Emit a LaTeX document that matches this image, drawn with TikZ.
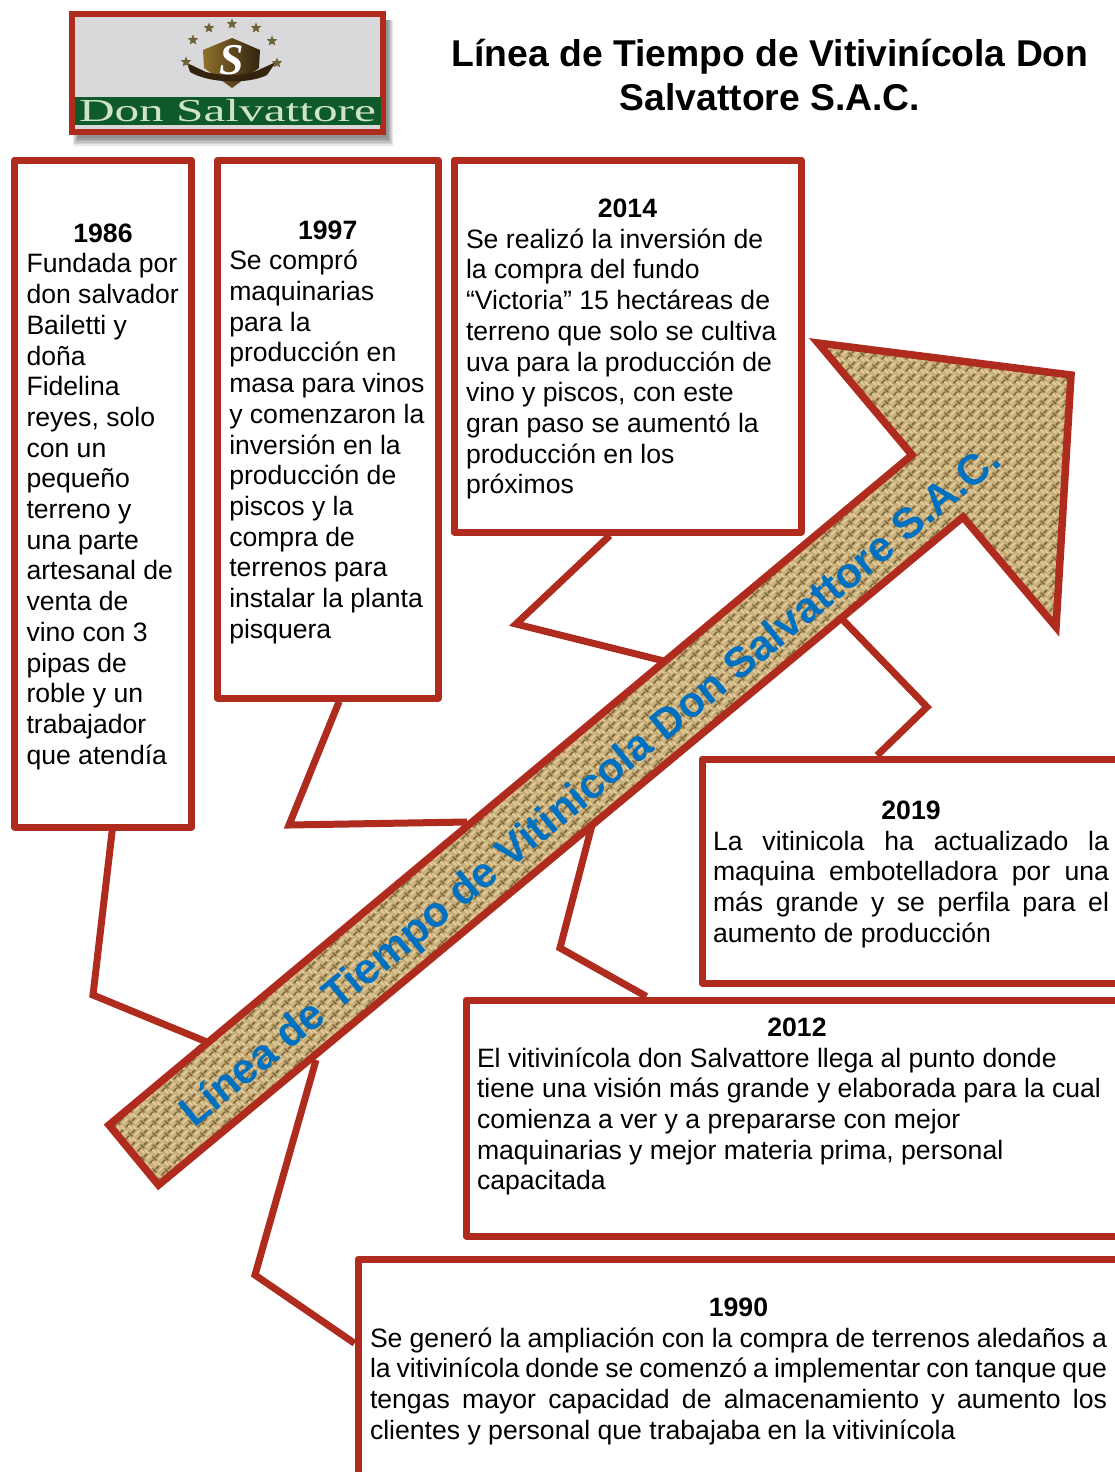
\documentclass[tikz,border=0pt]{standalone}
\usepackage{fontspec}
\setmainfont{Liberation Sans}
\newfontfamily\logofont{Liberation Serif}
\usepackage{xcolor}
\usetikzlibrary{calc, patterns, shapes.geometric}
\definecolor{framered}{HTML}{AE2B1E}
\definecolor{titleblue}{HTML}{0070C0}
\definecolor{sackbase}{HTML}{C7AE7B}
\definecolor{sackdark}{HTML}{7D673A}
\definecolor{sacklight}{HTML}{E4CF9C}
\definecolor{logogrey}{HTML}{D9D9DB}
\definecolor{logogreen}{HTML}{0F5A2A}
\definecolor{logotext}{HTML}{CFE3C8}
\definecolor{shieldbrown}{HTML}{33230F}
\definecolor{shieldgold}{HTML}{8F6F2C}
\definecolor{stargold}{HTML}{6E6238}
\pgfdeclarepatterninherentlycolored{sackweave}{\pgfqpoint{-1pt}{-1pt}}{\pgfqpoint{13pt}{13pt}}{\pgfqpoint{12pt}{12pt}}{%
  \pgfsetlinewidth{1.7pt}\pgfsetroundcap
  \pgfsetstrokecolor{sackdark}
  \pgfpathmoveto{\pgfqpoint{0pt}{3pt}}\pgfpathlineto{\pgfqpoint{3pt}{6pt}}
  \pgfpathmoveto{\pgfqpoint{6pt}{9pt}}\pgfpathlineto{\pgfqpoint{9pt}{12pt}}
  \pgfpathmoveto{\pgfqpoint{9pt}{3pt}}\pgfpathlineto{\pgfqpoint{12pt}{0pt}}
  \pgfusepath{stroke}
  \pgfsetstrokecolor{sacklight}
  \pgfpathmoveto{\pgfqpoint{3pt}{1pt}}\pgfpathlineto{\pgfqpoint{7pt}{5pt}}
  \pgfpathmoveto{\pgfqpoint{1pt}{10pt}}\pgfpathlineto{\pgfqpoint{4pt}{7pt}}
  \pgfpathmoveto{\pgfqpoint{9pt}{10pt}}\pgfpathlineto{\pgfqpoint{12pt}{7pt}}
  \pgfusepath{stroke}
}
\hyphenpenalty=10000
\exhyphenpenalty=10000
\newcommand{\yearline}[1]{\vrule height 25pt width 0pt\relax\makebox[\linewidth]{\textbf{#1}}}
\newcommand{\fillline}[1]{\makebox[\linewidth][s]{#1}}

\begin{document}
\begin{tikzpicture}[x=1pt,y=-1pt,
    tbox/.style={draw=framered,line width=7pt,line join=round,fill=white,align=flush left,inner sep=0pt,
      font=\fontsize{26.6}{30.7}\selectfont},
    callline/.style={draw=framered,line width=7pt,line join=miter},
    logostar/.style={star,star points=5,star point ratio=2.2,fill=stargold,inner sep=0pt,minimum size=11pt} ]
    \useasboundingbox (0,0) rectangle (1115,1472);
    \clip (0,0) rectangle (1115,1472);

    \node at (770,75) [align=center,font=\bfseries\fontsize{37.3}{43.5}\selectfont] (title)
      {Línea de Tiempo de Vitivinícola Don\\Salvattore S.A.C.};

    \foreach \i in {0,...,5}
      \fill [black,opacity=.09] (73+\i,20) rectangle (393-\i,146-1.6*\i);
    \node at (227.5,73) [draw=framered,line width=6pt,fill=logogrey,minimum width=311pt,minimum height=118pt,
      inner sep=0pt] (logo) {};
    \node at (228,111) [fill=logogreen,minimum width=306pt,minimum height=28pt,inner sep=0pt] (logoband) {};
    \node at (227.5,111) [xscale=1.54,inner sep=0pt,text=logotext,font=\logofont\fontsize{32}{32}\selectfont] (logoname) {Don Salvattore};
    \draw [left color=shieldgold,right color=shieldbrown,draw=none] (203,50) -- (232,38) -- (260,50) -- (259,68) -- (232,88) -- (204,68) -- cycle;
    \draw [fill=shieldbrown,draw=none] (190,72) .. controls (210,84) and (250,84) .. (267,75)
      -- (276,62) -- (254,72) .. controls (240,76) and (222,76) .. (206,72) -- (187,63) -- cycle;
    \node at (232,60) [text=white,font=\logofont\bfseries\itshape\fontsize{44}{44}\selectfont] (logoS) {S};
    \foreach \sx/\sy/\sn in {193/40/a,209/28/b,232/24/c,256/28/d,272/41/e,186/62/f,277/63/g}
      \node at (\sx,\sy) [logostar] (star\sn) {};

    \node at (103,493.5) [tbox,minimum width=177pt,minimum height=667pt,text width=153pt] (b86)
      {\yearline{1986}\\Fundada por\\don salvador\\Bailetti y\\doña\\Fidelina\\reyes, solo\\con un\\pequeño\\terreno y\\una parte\\artesanal de\\venta de\\vino con 3\\pipas de\\roble y un\\trabajador\\que atendía};
    \node at (327.75,429) [tbox,minimum width=220.5pt,minimum height=538pt,text width=197pt] (b97)
      {\yearline{1997}\\Se compró\\maquinarias\\para la\\producción en\\masa para vinos\\y comenzaron la\\inversión en la\\producción de\\piscos y la\\compra de\\terrenos para\\instalar la planta\\pisquera};
    \node at (627.5,346) [tbox,minimum width=347pt,minimum height=372pt,text width=323pt] (b14)
      {\yearline{2014}\\Se realizó la inversión de\\la compra del fundo\\“Victoria” 15 hectáreas de\\terreno que solo se cultiva\\uva para la producción de\\vino y piscos, con este\\gran paso se aumentó la\\producción en los\\próximos};
    \node at (911,871) [tbox,minimum width=418pt,minimum height=224pt,text width=396pt] (b19)
      {\yearline{2019}\\\fillline{La vitinicola ha actualizado la}\\\fillline{maquina embotelladora por una}\\\fillline{más grande y se perfila para el}\\aumento de producción};
    \node at (797,1118) [tbox,minimum width=662pt,minimum height=236pt,text width=640pt] (b12)
      {\yearline{2012}\\El vitivinícola don Salvattore llega al punto donde\\tiene una visión más grande y elaborada para la cual\\comienza a ver y a prepararse con mejor\\maquinarias y mejor materia prima, personal\\capacitada\\[4pt]~};
    \node at (738.5,1368) [tbox,minimum width=761pt,minimum height=218pt,text width=737pt] (b90)
      {\yearline{1990}\\\fillline{Se generó la ampliación con la compra de terrenos aledaños a}\\\fillline{la vitivinícola donde se comenzó a implementar con tanque que}\\\fillline{tengas mayor capacidad de almacenamiento y aumento los}\\clientes y personal que trabajaba en la vitivinícola};

    \coordinate (k86) at (93,995);
    \coordinate (e86) at (207,1042);
    \coordinate (k97) at (289,825);
    \coordinate (e97) at (467,822);
    \coordinate (k14) at (516,624);
    \coordinate (e14) at (668,662);
    \coordinate (e19) at (843,620);
    \coordinate (k19) at (927,707);
    \coordinate (e12) at (592,825);
    \coordinate (k12) at (560,948);
    \coordinate (e90) at (316,1060);
    \coordinate (k90) at (255,1275);
    \draw [callline] ($(b86.south west)!0.55!(b86.south east)$) -- (k86) -- (e86);
    \draw [callline] ($(b97.south west)!0.55!(b97.south east)$) -- (k97) -- (e97);
    \draw [callline] ($(b14.south west)!0.45!(b14.south east)$) -- (k14) -- (e14);
    \draw [callline] (e19) -- (k19) -- ($(b19.north west)!0.42!(b19.north east)$);
    \draw [callline] (e12) -- (k12) -- ($(b12.north west)!0.275!(b12.north east)$);
    \draw [callline] (e90) -- (k90) -- ($(b90.north west)!0.39!(b90.south west)$);

    \draw [draw=framered,line width=7.5pt,miter limit=12,preaction={fill=sackbase},pattern=sackweave]
      (109,1125) -- (912,455) -- (818,343) -- (1071,375) -- (1056,627) -- (963,517) -- (158.5,1185) -- cycle;
    \node at (592,788) [rotate=39.4,text=titleblue,font=\bfseries\fontsize{42.6}{42}\selectfont] (arrowlabel)
      {Línea de Tiempo de Vitinicola Don Salvattore S.A.C.};
\end{tikzpicture}
\end{document}
